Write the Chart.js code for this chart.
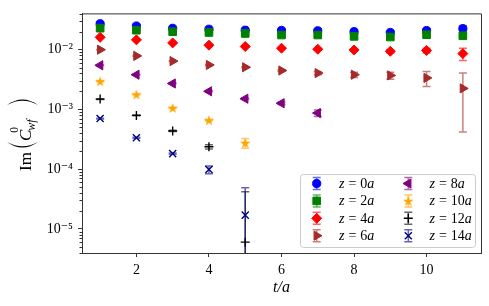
<!DOCTYPE html>
<html>
<head>
<meta charset="utf-8">
<script src="https://cdn.jsdelivr.net/npm/chart.js@4.4.1/dist/chart.umd.min.js"></script>
<style>
  html, body { margin: 0; padding: 0; background: #fff; }
</style>
</head>
<body>
<canvas id="charts" width="489" height="306"></canvas>
<script>
// t/a values on the x axis
const tValues = [1, 2, 3, 4, 5, 6, 7, 8, 9, 10, 11];
const zLabels = ['0a', '2a', '4a', '6a', '8a', '10a', '12a', '14a'];

// Im(C^0_wf) for each z
const imZ0  = [0.0272, 0.0249, 0.0228, 0.0220, 0.0212, 0.0210, 0.0207, 0.0200, 0.0194, 0.0209, 0.0225];
const imZ2  = [0.0229, 0.0212, 0.0200, 0.0194, 0.0187, 0.0176, 0.0176, 0.0167, 0.0163, 0.0178, 0.0171];
const imZ4  = [0.0161, 0.0146, 0.0130, 0.0119, 0.0113, 0.0106, 0.0102, 0.0099, 0.0094, 0.0097, 0.0086];
const imZ6  = [0.0100, 0.00787, 0.00644, 0.00555, 0.00508, 0.00448, 0.00406, 0.00381, 0.00371, 0.00337, 0.00225];
const imZ8  = [0.00548, 0.00381, 0.00272, 0.00201, 0.00151, 0.00127, 0.00087];
const imZ10 = [0.00296, 0.00178, 0.00106, 0.00066, 0.000275];
const imZ12 = [0.00149, 0.000794, 0.000436, 0.000237, 0.000006];
const imZ14 = [0.000703, 0.000335, 0.000182, 0.0000985, 0.000017];

// error bars (symmetric)
const errZ0  = [0.0004, 0.0004, 0.0004, 0.0004, 0.0005, 0.0005, 0.0006, 0.0007, 0.0008, 0.0012, 0.0026];
const errZ2  = [0.0003, 0.0003, 0.0003, 0.0004, 0.0004, 0.0005, 0.0005, 0.0006, 0.0007, 0.0009, 0.0012];
const errZ4  = [0.0002, 0.0002, 0.0002, 0.0003, 0.0003, 0.0003, 0.0004, 0.0005, 0.0006, 0.0009, 0.0020];
const errZ6  = [0.0001, 0.0001, 0.0001, 0.0001, 0.0001, 0.00012, 0.00025, 0.0004, 0.0005, 0.00095, 0.00183];
const errZ8  = [0.00006, 0.00005, 0.00004, 0.00004, 0.00004, 0.00006, 0.00011];
const errZ10 = [0.00003, 0.00002, 0.00002, 0.00002, 0.00005];
const errZ12 = [0.00002, 0.00001, 0.00001, 0.00002, 0.000036];
const errZ14 = [0.00001, 0.000006, 0.000005, 0.000015, 0.000032];

const xTickValues = [2, 4, 6, 8, 10];
const yTickExponents = [-5, -4, -3, -2];

const allValues = [imZ0, imZ2, imZ4, imZ6, imZ8, imZ10, imZ12, imZ14];
const allErrors = [errZ0, errZ2, errZ4, errZ6, errZ8, errZ10, errZ12, errZ14];

const colors = ['#0000ff', '#008000', '#ff0000', '#a52a2a', '#800080', '#ffa500', '#000000', '#000080'];
const serif = '"Liberation Serif", "DejaVu Serif", serif';

function makeStar(color, r) {
  const c = document.createElement('canvas');
  const s = Math.ceil(r * 2 + 2);
  c.width = s;
  c.height = s;
  const g = c.getContext('2d');
  g.translate(s / 2, s / 2 + r * 0.1);
  g.beginPath();
  for (let k = 0; k < 10; k++) {
    const rr = k % 2 === 0 ? r : r * 0.382;
    const a = -Math.PI / 2 + k * Math.PI / 5;
    g.lineTo(rr * Math.cos(a), rr * Math.sin(a));
  }
  g.closePath();
  g.fillStyle = color;
  g.fill();
  return c;
}

const markers = [
  { pointStyle: 'circle', radius: 4.1, rotation: 0, borderWidth: 1 },
  { pointStyle: 'rect', radius: 5.4, rotation: 0, borderWidth: 1 },
  { pointStyle: 'rectRot', radius: 5, rotation: 0, borderWidth: 1 },
  { pointStyle: 'triangle', radius: 5.3, rotation: 90, borderWidth: 1 },
  { pointStyle: 'triangle', radius: 5.3, rotation: -90, borderWidth: 1 },
  { pointStyle: makeStar('#ffa500', 5.6), radius: 5.6, rotation: 0, borderWidth: 0 },
  { pointStyle: 'cross', radius: 4.5, rotation: 0, borderWidth: 1.4 },
  { pointStyle: 'crossRot', radius: 5, rotation: 0, borderWidth: 1.4 }
];

const supMap = { '-': '\u207B', '0': '\u2070', '1': '\u00B9', '2': '\u00B2', '3': '\u00B3', '4': '\u2074', '5': '\u2075', '6': '\u2076' };
function supText(n) {
  return String(n).split('').map(ch => supMap[ch]).join('');
}

let datasets = [];
for (let i = 0; i < allValues.length; i++) {
  const vals = allValues[i];
  datasets.push({
    label: 'z = ' + zLabels[i],
    data: vals.map((v, j) => ({ x: tValues[j], y: v })),
    showLine: false,
    order: allValues.length - i,
    backgroundColor: colors[i],
    borderColor: colors[i],
    pointStyle: markers[i].pointStyle,
    pointRadius: markers[i].radius,
    pointRotation: markers[i].rotation,
    pointBorderWidth: markers[i].borderWidth,
    pointHoverRadius: markers[i].radius
  });
}

function drawMarker(ctx, m, x, y) {
  if (Chart.helpers && Chart.helpers.drawPoint) {
    Chart.helpers.drawPoint(ctx, m, x, y);
  }
}

const errorBars = {
  id: 'errorBars',
  beforeDatasetsDraw(chart) {
    const ctx = chart.ctx;
    const xs = chart.scales.x;
    const ys = chart.scales.y;
    const area = chart.chartArea;
    ctx.save();
    ctx.beginPath();
    ctx.rect(area.left, area.top, area.right - area.left, area.bottom - area.top);
    ctx.clip();
    ctx.lineWidth = 1.5;
    ctx.globalAlpha = 0.6;
    for (let i = 0; i < allValues.length; i++) {
      ctx.strokeStyle = colors[i];
      allValues[i].forEach((v, j) => {
        const e = allErrors[i][j];
        const x = xs.getPixelForValue(tValues[j]);
        const hi = ys.getPixelForValue(v + e);
        const lowVal = v - e;
        const lo = lowVal > 0 ? ys.getPixelForValue(lowVal) : area.bottom + 5;
        ctx.beginPath();
        ctx.moveTo(x, hi);
        ctx.lineTo(x, lo);
        ctx.moveTo(x - 4, hi);
        ctx.lineTo(x + 4, hi);
        if (lowVal > 0) {
          ctx.moveTo(x - 4, lo);
          ctx.lineTo(x + 4, lo);
        }
        ctx.stroke();
      });
    }
    ctx.restore();
  }
};

const decorations = {
  id: 'decorations',
  afterDraw(chart) {
    const ctx = chart.ctx;
    const area = chart.chartArea;
    const ys = chart.scales.y;

    // top and right spines
    ctx.save();
    ctx.strokeStyle = '#333';
    ctx.lineWidth = 1;
    ctx.beginPath();
    ctx.moveTo(area.left, area.top + 0.5);
    ctx.lineTo(area.right + 0.5, area.top + 0.5);
    ctx.lineTo(area.right + 0.5, area.bottom);
    ctx.stroke();

    // minor ticks on the log axis
    ctx.beginPath();
    for (let p = -6; p <= -1; p++) {
      for (let k = 2; k <= 9; k++) {
        const v = k * Math.pow(10, p);
        if (v < ys.min || v > ys.max) continue;
        const y = Math.round(ys.getPixelForValue(v)) + 0.5;
        ctx.moveTo(area.left - 2.5, y);
        ctx.lineTo(area.left, y);
      }
    }
    ctx.stroke();
    ctx.restore();

    // legend
    ctx.save();
    const bx = 300, by = 174, bw = 175, bh = 73;
    ctx.beginPath();
    ctx.roundRect(bx + 0.5, by + 0.5, bw, bh, 3);
    ctx.fillStyle = 'rgba(255,255,255,0.8)';
    ctx.fill();
    ctx.strokeStyle = '#cccccc';
    ctx.lineWidth = 1;
    ctx.stroke();
    for (let i = 0; i < zLabels.length; i++) {
      const col = Math.floor(i / 4);
      const row = i % 4;
      const mx = col === 0 ? 316.7 : 408.3;
      const tx = col === 0 ? 339 : 429.5;
      const y = 183.5 + row * 17.4;
      ctx.save();
      ctx.globalAlpha = 0.6;
      ctx.strokeStyle = colors[i];
      ctx.lineWidth = 1.5;
      ctx.beginPath();
      ctx.moveTo(mx, y - 6);
      ctx.lineTo(mx, y + 6);
      ctx.moveTo(mx - 4, y - 6);
      ctx.lineTo(mx + 4, y - 6);
      ctx.moveTo(mx - 4, y + 6);
      ctx.lineTo(mx + 4, y + 6);
      ctx.stroke();
      ctx.restore();
      ctx.fillStyle = colors[i];
      ctx.strokeStyle = colors[i];
      ctx.lineWidth = markers[i].borderWidth || 1;
      drawMarker(ctx, markers[i], mx, y);

      // label: z = Na
      ctx.fillStyle = '#000';
      ctx.textBaseline = 'alphabetic';
      ctx.textAlign = 'left';
      let cx = tx;
      const base = y + 4.5;
      const num = zLabels[i].slice(0, -1);
      ctx.font = 'italic 14px ' + serif;
      ctx.fillText('z', cx, base);
      cx += ctx.measureText('z').width + 4;
      ctx.font = '14px ' + serif;
      ctx.fillText('=', cx, base);
      cx += ctx.measureText('=').width + 4;
      ctx.fillText(num, cx, base);
      cx += ctx.measureText(num).width;
      ctx.font = 'italic 14px ' + serif;
      ctx.fillText('a', cx, base);
    }
    ctx.restore();

    // y axis title: Im( C^0_wf )
    ctx.save();
    ctx.translate(31, 131);
    ctx.rotate(-Math.PI / 2);
    ctx.fillStyle = '#000';
    ctx.textBaseline = 'alphabetic';
    ctx.textAlign = 'left';
    ctx.font = '17px ' + serif;
    ctx.fillText('Im', -40, 0);
    ctx.font = 'italic 17px ' + serif;
    ctx.fillText('C', -10, 0);
    const cEnd = -10 + ctx.measureText('C').width;
    ctx.font = '11.5px ' + serif;
    ctx.fillText('0', cEnd - 3, -13);
    ctx.font = 'italic 12px ' + serif;
    ctx.fillText('wf', cEnd - 1, 3.5);
    // big parentheses
    ctx.beginPath();
    ctx.moveTo(-11, -24);
    ctx.quadraticCurveTo(-22, -8.5, -11, 7);
    ctx.quadraticCurveTo(-19.5, -8.5, -11, -24);
    ctx.fill();
    ctx.beginPath();
    ctx.moveTo(26, -24);
    ctx.quadraticCurveTo(37, -8.5, 26, 7);
    ctx.quadraticCurveTo(34.5, -8.5, 26, -24);
    ctx.fill();
    ctx.restore();
  }
};

new Chart(
  document.getElementById('charts'),
  {
    type: 'scatter',
    data: { datasets: datasets },
    options: {
      responsive: false,
      animation: false,
      events: [],
      layout: { padding: { top: 7, right: 8, left: 0, bottom: 0 } },
      plugins: {
        legend: { display: false },
        tooltip: { enabled: false }
      },
      scales: {
        x: {
          type: 'linear',
          min: 0.5,
          max: 11.5,
          afterBuildTicks: (scale) => {
            scale.ticks = xTickValues.map(v => ({ value: v }));
          },
          afterFit: (scale) => { scale.height = 53; },
          grid: { drawOnChartArea: false, drawTicks: true, tickLength: 4, color: '#333' },
          border: { display: true, color: '#333', width: 1 },
          ticks: {
            color: '#000',
            padding: 5,
            maxRotation: 0,
            font: { family: serif, size: 14 }
          },
          title: {
            display: true,
            text: 't/a',
            color: '#000',
            font: { family: serif, size: 16, style: 'italic' },
            padding: { top: 0, bottom: 9 }
          }
        },
        y: {
          type: 'logarithmic',
          min: 3.95e-6,
          max: 0.0405,
          afterBuildTicks: (scale) => {
            scale.ticks = yTickExponents.map(p => ({ value: Math.pow(10, p), major: true }));
          },
          afterFit: (scale) => { scale.width = 82; },
          grid: { drawOnChartArea: false, drawTicks: true, tickLength: 4, color: '#333' },
          border: { display: true, color: '#333', width: 1 },
          ticks: {
            color: '#000',
            padding: 5,
            font: { family: serif, size: 14 },
            callback: function (value) {
              const p = Math.round(Math.log10(value));
              return '10' + supText(p);
            }
          }
        }
      }
    },
    plugins: [errorBars, decorations]
  }
);
</script>
</body>
</html>
